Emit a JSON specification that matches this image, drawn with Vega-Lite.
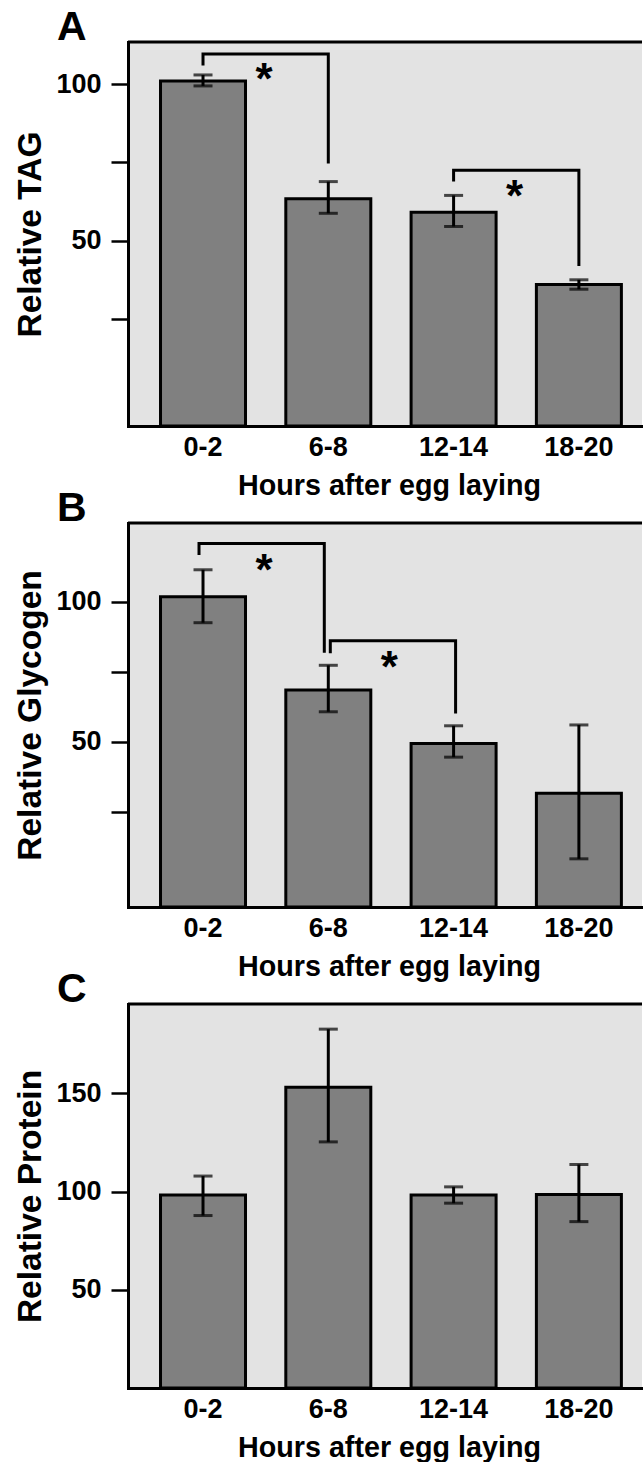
{
  "$schema": "https://vega.github.io/schema/vega-lite/v6.json",
  "background": "white",
  "padding": {"left": 13, "top": 6, "right": 0, "bottom": 0},
  "bounds": "flush",
  "spacing": 97,
  "config": {
    "font": "Liberation Sans",
    "view": {"fill": "#e3e3e3", "stroke": null},
    "axis": {"grid": false, "labelColor": "black", "titleColor": "black", "labelFontWeight": "bold", "titleFontWeight": "bold", "domainColor": "black", "tickColor": "black"},
    "axisX": {"ticks": false, "tickSize": 0, "labelPadding": 8, "labelFontSize": 27, "titleFontSize": 28.7, "titlePadding": 11, "titleX": 261, "labelAngle": 0, "domainWidth": 3, "domainCap": "square"},
    "axisY": {"tickSize": 17, "tickWidth": 2.5, "labelPadding": 10, "labelFontSize": 27, "titleFontSize": 33.5, "titlePadding": 8, "domainWidth": 3, "domainCap": "square"}
  },
  "vconcat": [
    {
      "width": 514, "height": 384,
      "title": {"text": "A", "frame": "group", "anchor": "start", "dx": -71, "dy": 8, "offset": 0, "fontSize": 41, "fontWeight": "bold", "color": "black"},
      "layer": [
        {
          "data": {"values": [
            {"hours": "0-2", "mean": 101.0, "lo": 99.4, "hi": 102.9},
            {"hours": "6-8", "mean": 63.4, "lo": 58.8, "hi": 68.9},
            {"hours": "12-14", "mean": 59.1, "lo": 54.6, "hi": 64.5},
            {"hours": "18-20", "mean": 36.1, "lo": 34.6, "hi": 37.6}
          ]},
          "layer": [
            {
              "mark": {"type": "bar", "fill": "#808080", "stroke": "black", "strokeWidth": 3},
              "encoding": {
                "x": {"field": "hours", "type": "ordinal", "sort": ["0-2", "6-8", "12-14", "18-20"], "scale": {"paddingInner": 0.3216, "paddingOuter": 0.212, "align": 0.612}, "title": "Hours after egg laying"},
                "y": {"field": "mean", "type": "quantitative", "title": "Relative TAG", "scale": {"domain": [-9, 113.4], "nice": false, "zero": false}, "axis": {"values": [25, 50, 75, 100], "labelExpr": "datum.value == 50 || datum.value == 100 ? datum.label : ''"}},
                "y2": {"datum": -9}
              }
            },
            {
              "mark": {"type": "errorbar", "ticks": {"size": 19, "thickness": 3, "color": "black"}, "rule": {"strokeWidth": 3, "color": "black"}},
              "encoding": {
                "x": {"field": "hours", "type": "ordinal", "sort": ["0-2", "6-8", "12-14", "18-20"], "title": "Hours after egg laying"},
                "y": {"field": "lo", "type": "quantitative", "title": "Relative TAG"},
                "y2": {"field": "hi"}
              }
            }
          ]
        },
        {
          "data": {"values": [
            {"bracket": 1, "order": 1, "hours": "0-2", "y": 105.9},
            {"bracket": 1, "order": 2, "hours": "0-2", "y": 109.6},
            {"bracket": 1, "order": 3, "hours": "6-8", "y": 109.6},
            {"bracket": 1, "order": 4, "hours": "6-8", "y": 74.7},
            {"bracket": 2, "order": 1, "hours": "12-14", "y": 68.9},
            {"bracket": 2, "order": 2, "hours": "12-14", "y": 72.5},
            {"bracket": 2, "order": 3, "hours": "18-20", "y": 72.5},
            {"bracket": 2, "order": 4, "hours": "18-20", "y": 42.0}
          ]},
          "mark": {"type": "line", "color": "black", "strokeWidth": 3, "strokeJoin": "miter", "strokeCap": "butt"},
          "encoding": {
            "x": {"field": "hours", "type": "ordinal", "sort": ["0-2", "6-8", "12-14", "18-20"], "title": "Hours after egg laying"},
            "y": {"field": "y", "type": "quantitative", "title": "Relative TAG"},
            "detail": {"field": "bracket"},
            "order": {"field": "order"}
          }
        },
        {
          "data": {"values": [
            {"hours": "0-2", "y": 104.5, "label": "*"},
            {"hours": "12-14", "y": 67.3, "label": "*"}
          ]},
          "mark": {"type": "text", "fontSize": 44, "fontWeight": "bold", "color": "black", "align": "center", "baseline": "middle", "dx": 61, "dy": 11},
          "encoding": {
            "x": {"field": "hours", "type": "ordinal", "sort": ["0-2", "6-8", "12-14", "18-20"], "title": "Hours after egg laying"},
            "y": {"field": "y", "type": "quantitative", "title": "Relative TAG"},
            "text": {"field": "label"}
          }
        },
        {
          "data": {"values": [{}]},
          "mark": {"type": "rule", "color": "black", "strokeWidth": 3},
          "encoding": {"y": {"datum": 113.4, "type": "quantitative"}}
        }
      ]
    },
    {
      "width": 514, "height": 384,
      "title": {"text": "B", "frame": "group", "anchor": "start", "dx": -71, "dy": 8, "offset": 0, "fontSize": 41, "fontWeight": "bold", "color": "black"},
      "layer": [
        {
          "data": {"values": [
            {"hours": "0-2", "mean": 101.8, "lo": 92.5, "hi": 111.4},
            {"hours": "6-8", "mean": 68.5, "lo": 60.7, "hi": 77.3},
            {"hours": "12-14", "mean": 49.4, "lo": 44.5, "hi": 55.7},
            {"hours": "18-20", "mean": 31.6, "lo": 8.2, "hi": 56.0}
          ]},
          "layer": [
            {
              "mark": {"type": "bar", "fill": "#808080", "stroke": "black", "strokeWidth": 3},
              "encoding": {
                "x": {"field": "hours", "type": "ordinal", "sort": ["0-2", "6-8", "12-14", "18-20"], "scale": {"paddingInner": 0.3216, "paddingOuter": 0.212, "align": 0.612}, "title": "Hours after egg laying"},
                "y": {"field": "mean", "type": "quantitative", "title": "Relative Glycogen", "scale": {"domain": [-9, 128.1], "nice": false, "zero": false}, "axis": {"values": [25, 50, 75, 100], "labelExpr": "datum.value == 50 || datum.value == 100 ? datum.label : ''"}},
                "y2": {"datum": -9}
              }
            },
            {
              "mark": {"type": "errorbar", "ticks": {"size": 19, "thickness": 3, "color": "black"}, "rule": {"strokeWidth": 3, "color": "black"}},
              "encoding": {
                "x": {"field": "hours", "type": "ordinal", "sort": ["0-2", "6-8", "12-14", "18-20"], "title": "Hours after egg laying"},
                "y": {"field": "lo", "type": "quantitative", "title": "Relative Glycogen"},
                "y2": {"field": "hi"}
              }
            }
          ]
        },
        {
          "data": {"values": [
            {"bracket": 1, "order": 1, "hours": "0-2", "y": 116.7},
            {"bracket": 1, "order": 2, "hours": "0-2", "y": 120.8},
            {"bracket": 1, "order": 3, "hours": "6-8", "y": 120.8},
            {"bracket": 1, "order": 4, "hours": "6-8", "y": 81.8}
          ]},
          "mark": {"type": "line", "color": "black", "strokeWidth": 3, "strokeJoin": "miter", "strokeCap": "butt", "xOffset": -4},
          "encoding": {
            "x": {"field": "hours", "type": "ordinal", "sort": ["0-2", "6-8", "12-14", "18-20"], "title": "Hours after egg laying"},
            "y": {"field": "y", "type": "quantitative", "title": "Relative Glycogen"},
            "detail": {"field": "bracket"},
            "order": {"field": "order"}
          }
        },
        {
          "data": {"values": [
            {"bracket": 2, "order": 1, "hours": "6-8", "y": 81.6},
            {"bracket": 2, "order": 2, "hours": "6-8", "y": 86.1},
            {"bracket": 2, "order": 3, "hours": "12-14", "y": 86.1},
            {"bracket": 2, "order": 4, "hours": "12-14", "y": 60.1}
          ]},
          "mark": {"type": "line", "color": "black", "strokeWidth": 3, "strokeJoin": "miter", "strokeCap": "butt", "xOffset": 2},
          "encoding": {
            "x": {"field": "hours", "type": "ordinal", "sort": ["0-2", "6-8", "12-14", "18-20"], "title": "Hours after egg laying"},
            "y": {"field": "y", "type": "quantitative", "title": "Relative Glycogen"},
            "detail": {"field": "bracket"},
            "order": {"field": "order"}
          }
        },
        {
          "data": {"values": [
            {"hours": "0-2", "y": 114.5, "label": "*"},
            {"hours": "6-8", "y": 80.0, "label": "*"}
          ]},
          "mark": {"type": "text", "fontSize": 44, "fontWeight": "bold", "color": "black", "align": "center", "baseline": "middle", "dx": 61, "dy": 11},
          "encoding": {
            "x": {"field": "hours", "type": "ordinal", "sort": ["0-2", "6-8", "12-14", "18-20"], "title": "Hours after egg laying"},
            "y": {"field": "y", "type": "quantitative", "title": "Relative Glycogen"},
            "text": {"field": "label"}
          }
        },
        {
          "data": {"values": [{}]},
          "mark": {"type": "rule", "color": "black", "strokeWidth": 3},
          "encoding": {"y": {"datum": 128.1, "type": "quantitative"}}
        }
      ]
    },
    {
      "width": 514, "height": 384,
      "title": {"text": "C", "frame": "group", "anchor": "start", "dx": -71, "dy": 8, "offset": 0, "fontSize": 41, "fontWeight": "bold", "color": "black"},
      "layer": [
        {
          "data": {"values": [
            {"hours": "0-2", "mean": 98.2, "lo": 87.8, "hi": 107.9},
            {"hours": "6-8", "mean": 153.1, "lo": 125.3, "hi": 182.7},
            {"hours": "12-14", "mean": 98.2, "lo": 94.1, "hi": 102.4},
            {"hours": "18-20", "mean": 98.5, "lo": 84.7, "hi": 113.8}
          ]},
          "layer": [
            {
              "mark": {"type": "bar", "fill": "#808080", "stroke": "black", "strokeWidth": 3},
              "encoding": {
                "x": {"field": "hours", "type": "ordinal", "sort": ["0-2", "6-8", "12-14", "18-20"], "scale": {"paddingInner": 0.3216, "paddingOuter": 0.212, "align": 0.612}, "title": "Hours after egg laying"},
                "y": {"field": "mean", "type": "quantitative", "title": "Relative Protein", "scale": {"domain": [0, 195.5], "nice": false, "zero": false}, "axis": {"values": [50, 100, 150]}},
                "y2": {"datum": 0}
              }
            },
            {
              "mark": {"type": "errorbar", "ticks": {"size": 19, "thickness": 3, "color": "black"}, "rule": {"strokeWidth": 3, "color": "black"}},
              "encoding": {
                "x": {"field": "hours", "type": "ordinal", "sort": ["0-2", "6-8", "12-14", "18-20"], "title": "Hours after egg laying"},
                "y": {"field": "lo", "type": "quantitative", "title": "Relative Protein"},
                "y2": {"field": "hi"}
              }
            }
          ]
        },
        {
          "data": {"values": [{}]},
          "mark": {"type": "rule", "color": "black", "strokeWidth": 3},
          "encoding": {"y": {"datum": 195.5, "type": "quantitative"}}
        }
      ]
    }
  ]
}
